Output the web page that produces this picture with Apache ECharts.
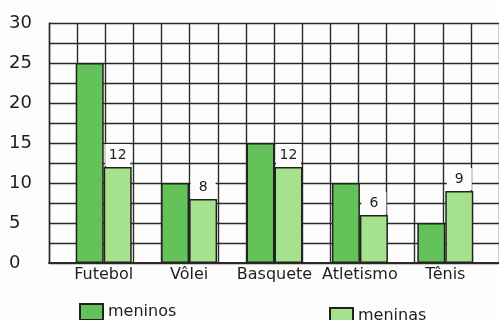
<!DOCTYPE html>
<html>
<head>
<meta charset="utf-8">
<script src="https://cdn.jsdelivr.net/npm/echarts@6/dist/echarts.min.js"></script>
<style>
  html, body { margin: 0; padding: 0; background: #fdfdfb; }
  #chart { width: 499px; height: 320px; }
</style>
</head>
<body>
<div id="chart"></div>
<script>
// Esportes preferidos por meninos e meninas
const categories = ['Futebol', 'Vôlei', 'Basquete', 'Atletismo', 'Tênis'];
const meninos = [25, 10, 15, 10, 5];
const meninas = [12, 8, 12, 6, 9];
const yTicks = [0, 5, 10, 15, 20, 25, 30];

const ink = '#2a2a2a';
const font = 'DejaVu Sans';

const chart = echarts.init(document.getElementById('chart'), null, { renderer: 'canvas' });

chart.setOption({
  backgroundColor: '#fdfdfb',
  animation: false,
  grid: [
    // squared paper behind the bars
    { left: 49, top: 23, width: 459, height: 240 },
    // area where the bars are placed
    { left: 61, top: 23, width: 427, height: 240 }
  ],
  xAxis: [
    {
      type: 'value', gridIndex: 0, min: 0, max: 16, interval: 1,
      axisLabel: { show: false }, axisTick: { show: false },
      axisLine: { show: true, lineStyle: { color: ink, width: 2 } },
      splitLine: { show: true, lineStyle: { color: ink, width: 1.4 } }
    },
    {
      type: 'category', gridIndex: 1, data: categories,
      axisLine: { show: false }, axisTick: { show: false },
      axisLabel: { interval: 0, color: '#1e1e1e', fontFamily: font, fontSize: 16, margin: 4 }
    }
  ],
  yAxis: [
    {
      type: 'value', gridIndex: 0, min: 0, max: 30, interval: 2.5,
      axisLine: { show: true, lineStyle: { color: ink, width: 1.4 } },
      axisTick: { show: false },
      splitLine: { show: true, lineStyle: { color: ink, width: 1.4 } },
      axisLabel: {
        align: 'left', margin: 40, color: '#1e1e1e', fontFamily: font, fontSize: 18,
        formatter: v => (yTicks.indexOf(v) >= 0 ? String(v) : '')
      }
    },
    {
      type: 'value', gridIndex: 1, min: 0, max: 30, show: false
    }
  ],
  legend: [
    {
      data: ['meninos'], left: 74, top: 298, itemWidth: 23, itemHeight: 16, itemGap: 6,
      icon: 'rect',
      textStyle: { color: '#1e1e1e', fontFamily: font, fontSize: 16 }
    },
    {
      data: ['meninas'], left: 324, top: 302, itemWidth: 23, itemHeight: 16, itemGap: 6,
      icon: 'rect',
      textStyle: { color: '#1e1e1e', fontFamily: font, fontSize: 16 }
    }
  ],
  series: [
    {
      name: 'meninos', type: 'bar', xAxisIndex: 1, yAxisIndex: 1,
      data: meninos, barWidth: 28, barGap: '0%',
      itemStyle: { color: '#63c25a', borderColor: '#222', borderWidth: 1.5 }
    },
    {
      name: 'meninas', type: 'bar', xAxisIndex: 1, yAxisIndex: 1,
      data: meninas, barWidth: 28, barGap: '0%',
      itemStyle: { color: '#a6e28e', borderColor: '#222', borderWidth: 1.5 },
      label: {
        show: true, position: 'top', distance: 1,
        color: '#1e1e1e', fontFamily: font, fontSize: 14,
        backgroundColor: '#fdfdfb', width: 25, align: 'center',
        lineHeight: 16, padding: [3, 0, 3, 0]
      }
    }
  ]
});
</script>
</body>
</html>
